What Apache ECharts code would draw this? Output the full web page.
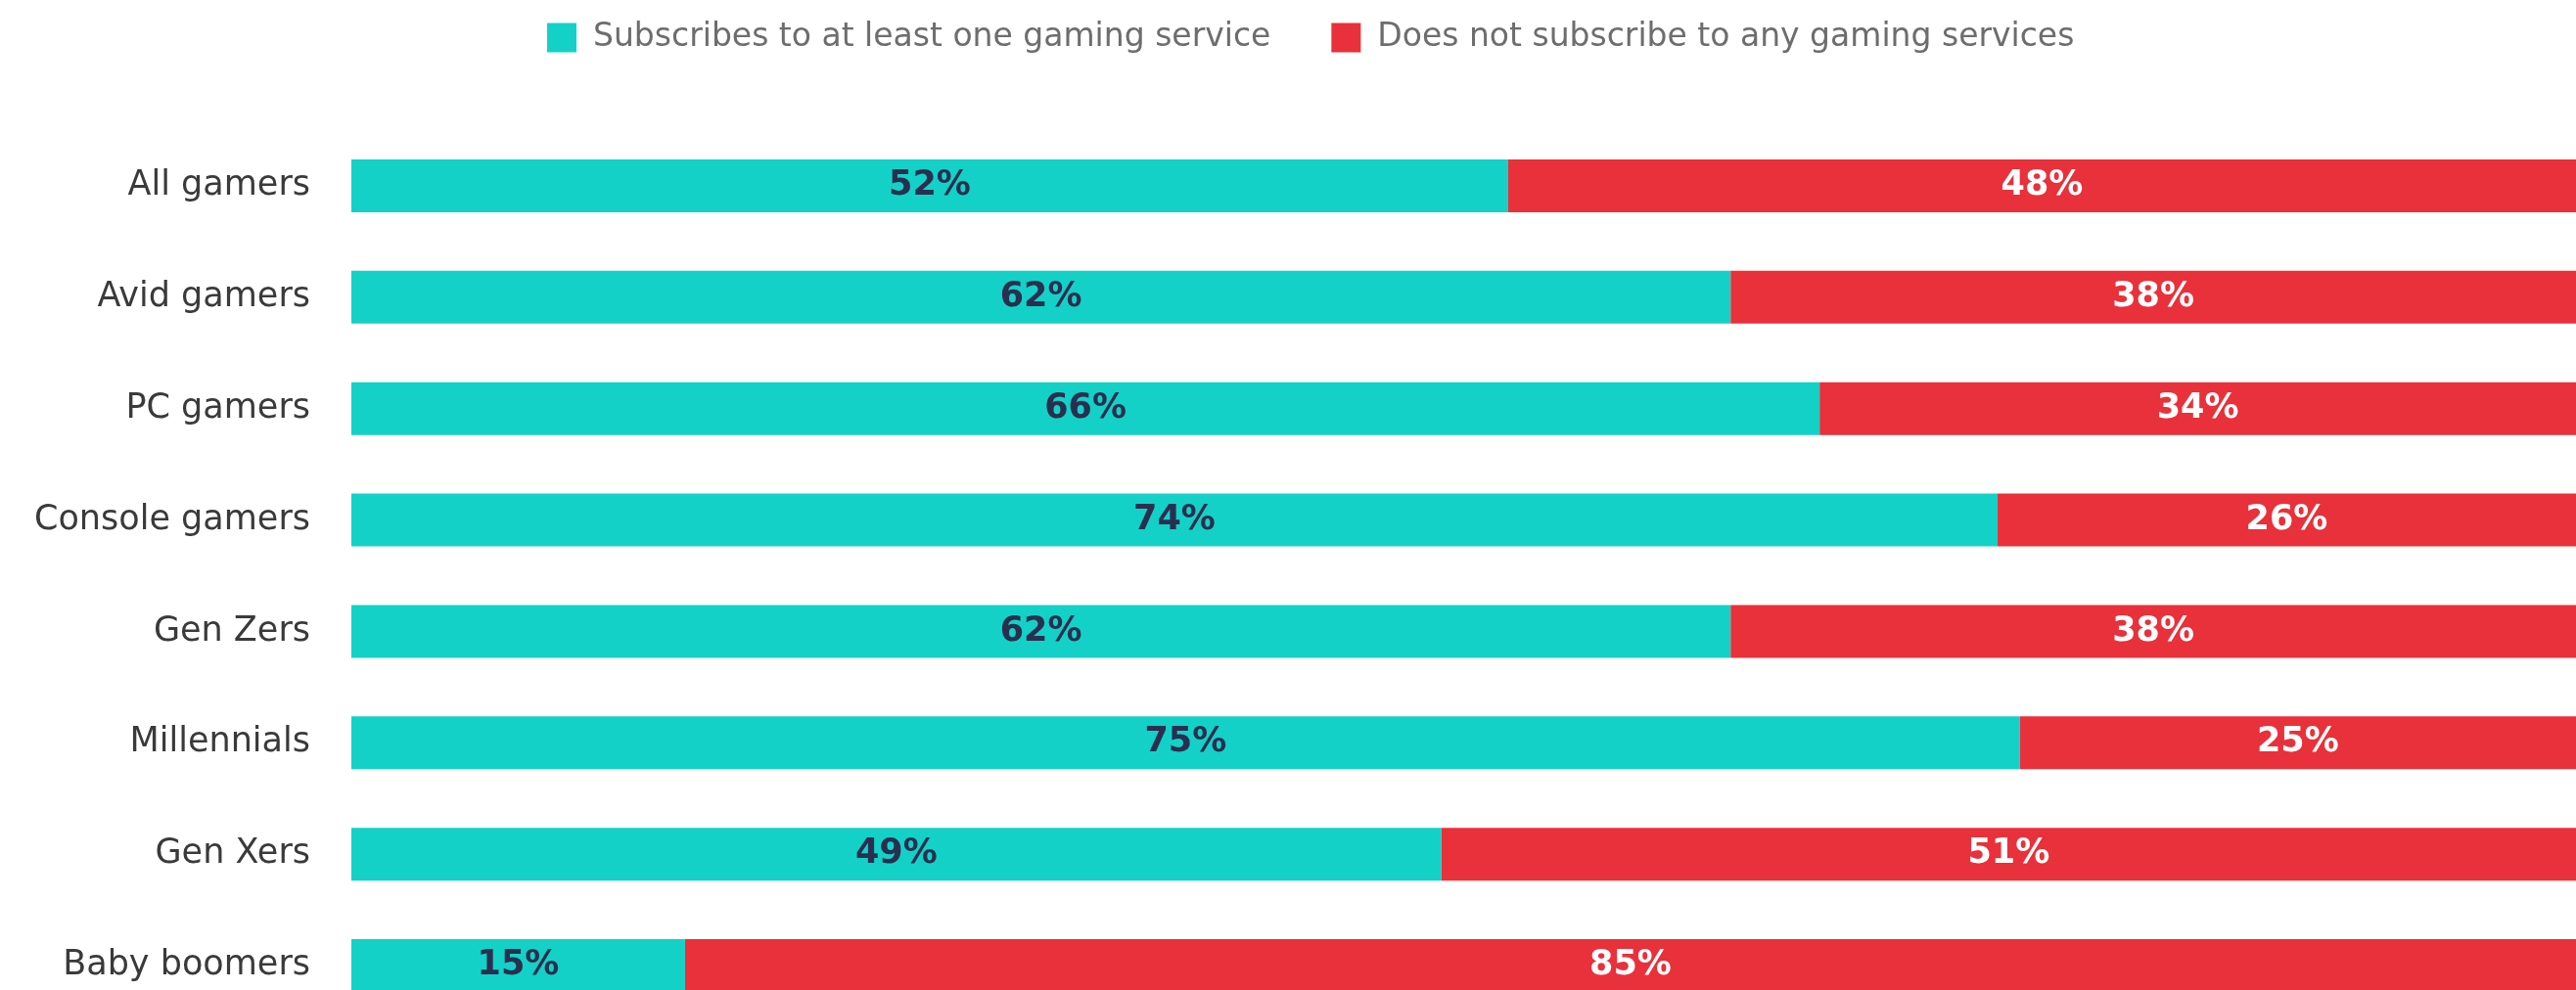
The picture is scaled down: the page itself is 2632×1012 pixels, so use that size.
<!DOCTYPE html>
<html>
<head>
<meta charset="utf-8">
<style>
  html, body { margin: 0; padding: 0; background: #ffffff; overflow: hidden; }
  /* the last band runs below the visible edge of the page */
  #chart { width: 2632px; height: 1044px; }
</style>
<script src="https://cdn.jsdelivr.net/npm/echarts@6/dist/echarts.min.js"></script>
</head>
<body>
<div id="chart"></div>
<script>
// Gaming subscription share by audience segment (percent)
const categories = ['All gamers', 'Avid gamers', 'PC gamers', 'Console gamers', 'Gen Zers', 'Millennials', 'Gen Xers', 'Baby boomers'];
const subscribes = [52, 62, 66, 74, 62, 75, 49, 15];
const noSubscription = [48, 38, 34, 26, 38, 25, 51, 85];
const seriesNames = ['Subscribes to at least one gaming service', 'Does not subscribe to any gaming services'];

const FONT = '"DejaVu Sans", sans-serif';

const chart = echarts.init(document.getElementById('chart'), null, { renderer: 'canvas' });

chart.setOption({
  animation: false,
  color: ['#14d1c8', '#e8313a'],
  textStyle: { fontFamily: FONT },
  legend: {
    top: 17,
    left: 554,
    itemWidth: 30,
    itemHeight: 30,
    itemGap: 62,
    icon: 'rect',
    textStyle: { fontSize: 33, color: '#6d6d6d', fontFamily: FONT, padding: [0, 0, 0, 12] },
    data: seriesNames
  },
  grid: { left: 359, right: 0, top: 133, bottom: 0, containLabel: false },
  xAxis: {
    type: 'value',
    min: 0,
    max: 100,
    show: false
  },
  yAxis: {
    type: 'category',
    inverse: true,
    data: categories,
    axisLine: { show: false },
    axisTick: { show: false },
    axisLabel: { fontSize: 35, color: '#3a3a3a', margin: 42, fontFamily: FONT }
  },
  series: [
    {
      name: seriesNames[0],
      type: 'bar',
      stack: 'total',
      barWidth: 54,
      data: subscribes,
      label: {
        show: true,
        position: 'inside',
        formatter: '{c}%',
        fontSize: 35,
        fontWeight: 'bold',
        color: '#2a2f4f',
        fontFamily: FONT
      }
    },
    {
      name: seriesNames[1],
      type: 'bar',
      stack: 'total',
      barWidth: 54,
      data: noSubscription,
      label: {
        show: true,
        position: 'inside',
        formatter: '{c}%',
        fontSize: 35,
        fontWeight: 'bold',
        color: '#ffffff',
        fontFamily: FONT
      }
    }
  ]
});
</script>
</body>
</html>
